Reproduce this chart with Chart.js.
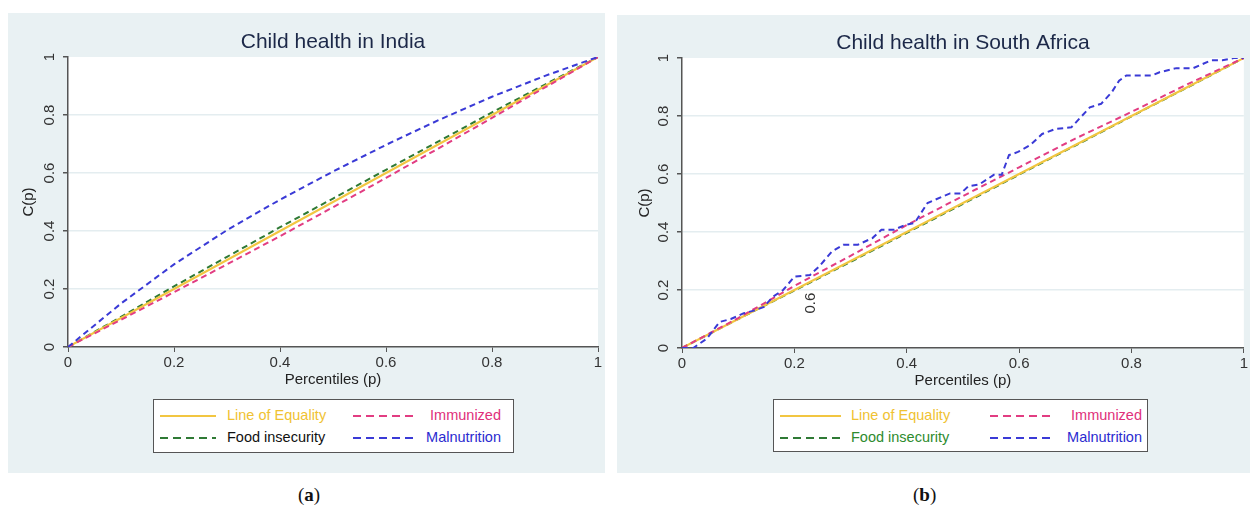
<!DOCTYPE html>
<html>
<head>
<meta charset="utf-8">
<script src="https://cdn.jsdelivr.net/npm/chart.js@4.4.1/dist/chart.umd.min.js"></script>
<style>
  body { margin: 0; background: #fff; width: 1250px; height: 514px; position: relative; overflow: hidden; font-family: "Liberation Sans", Arial, sans-serif; }
  .panel { position: absolute; background: #e9f1f3; }
  .panel canvas { position: absolute; left: 0; top: 0; }
  .legend { position: absolute; background: #fff; border: 1.5px solid #555; box-sizing: border-box; }
  .legend .item { position: absolute; font-size: 14.5px; line-height: 16px; white-space: nowrap; }
  .legend svg { position: absolute; }
  .caption { position: absolute; top: 484px; font-family: "Liberation Serif", "DejaVu Serif", serif; font-size: 19px; color: #111; }
</style>
</head>
<body>

<div class="panel" id="panelA" style="left:8px; top:13px; width:597px; height:460px;">
  <canvas id="chartA"></canvas>
</div>
<div class="panel" id="panelB" style="left:617px; top:15px; width:633px; height:458px;">
  <canvas id="chartB"></canvas>
</div>

<div class="legend" id="legendA" style="left:153px; top:399px; width:361px; height:54px;"></div>
<div class="legend" id="legendB" style="left:773px; top:399px; width:375px; height:53px;"></div>

<div class="caption" style="left:298px;">(<b>a</b>)</div>
<div class="caption" style="left:913px;">(<b>b</b>)</div>

<script>
// ---- data ----
const seriesNames = ['Line of Equality', 'Immunized', 'Food insecurity', 'Malnutrition'];

// India
const pIndia = [0, 0.1, 0.2, 0.3, 0.4, 0.5, 0.6, 0.7, 0.8, 0.9, 1];
const equalityIndia = [0, 0.1, 0.2, 0.3, 0.4, 0.5, 0.6, 0.7, 0.8, 0.9, 1];
const immunizedIndia = [0, 0.094, 0.189, 0.285, 0.382, 0.482, 0.583, 0.686, 0.79, 0.895, 1];
const foodIndia = [0, 0.104, 0.209, 0.311, 0.413, 0.512, 0.611, 0.71, 0.809, 0.905, 1];
const malnutritionIndia = [0, 0.15, 0.285, 0.403, 0.508, 0.605, 0.697, 0.783, 0.863, 0.935, 1];

// South Africa
const pSA = [0, 0.1, 0.2, 0.3, 0.4, 0.5, 0.6, 0.7, 0.8, 0.9, 1];
const equalitySA = [0, 0.1, 0.2, 0.3, 0.4, 0.5, 0.6, 0.7, 0.8, 0.9, 1];
const immunizedSA = [0, 0.103, 0.214, 0.318, 0.424, 0.524, 0.623, 0.722, 0.814, 0.91, 1];
const foodSA = [0, 0.1, 0.198, 0.297, 0.397, 0.497, 0.598, 0.698, 0.799, 0.899, 1];
const pMalnSA = [0, 0.02, 0.044, 0.067, 0.087, 0.11, 0.13, 0.146, 0.162, 0.18, 0.2, 0.228, 0.244, 0.267, 0.287, 0.313,
  0.339, 0.355, 0.378, 0.398, 0.414, 0.437, 0.477, 0.496, 0.51, 0.529, 0.555, 0.569, 0.582, 0.598, 0.62, 0.641,
  0.664, 0.693, 0.726, 0.746, 0.765, 0.778, 0.791, 0.837, 0.85, 0.88, 0.91, 0.942, 0.962, 0.982, 1];
const malnutritionSA = [0, 0, 0.032, 0.09, 0.1, 0.12, 0.13, 0.142, 0.177, 0.2, 0.246, 0.252, 0.281, 0.333, 0.356, 0.356,
  0.379, 0.408, 0.408, 0.425, 0.431, 0.5, 0.533, 0.533, 0.558, 0.564, 0.597, 0.597, 0.665, 0.676, 0.7, 0.738,
  0.755, 0.761, 0.83, 0.842, 0.882, 0.922, 0.94, 0.94, 0.951, 0.965, 0.965, 0.992, 0.992, 1, 1];

const axisTicks = [0, 0.2, 0.4, 0.6, 0.8, 1];

// stray rotated "0.6" that sits inside the South Africa plot
const strayText = ['0.6'];
const strayAt = [0.23, 0.155];

// ---- styling ----
const colEquality = '#f2c641';
const colImmunized = '#e23d82';
const colFood = '#2f7a35';
const colMaln = '#3a3ad6';
const dash = [6, 4];
const fontFam = '"Liberation Sans", Arial, sans-serif';

function pts(xs, ys) {
  return xs.map((x, i) => ({ x: x, y: ys[i] }));
}

function lineSet(label, xs, ys, color, dashed) {
  return {
    label: label,
    data: pts(xs, ys),
    borderColor: color,
    backgroundColor: color,
    borderWidth: 2,
    borderDash: dashed ? dash : [],
    pointRadius: 0,
    tension: 0,
    fill: false
  };
}

// white plot area + title over the plot area
const plotDecor = {
  id: 'plotDecor',
  beforeDraw(chart) {
    const a = chart.chartArea, ctx = chart.ctx;
    ctx.save();
    ctx.fillStyle = '#fff';
    ctx.fillRect(a.left, a.top, a.right - a.left, a.bottom - a.top);
    ctx.restore();
  },
  afterDraw(chart, args, opts) {
    const a = chart.chartArea, ctx = chart.ctx;
    ctx.save();
    ctx.fillStyle = '#1c2848';
    ctx.font = '21px ' + fontFam;
    ctx.textAlign = 'center';
    ctx.textBaseline = 'middle';
    ctx.fillText(opts.title, (a.left + a.right) / 2, opts.titleY);
    if (opts.stray) {
      const x = chart.scales.x.getPixelForValue(strayAt[0]);
      const y = chart.scales.y.getPixelForValue(strayAt[1]);
      ctx.translate(x, y);
      ctx.rotate(-Math.PI / 2);
      ctx.fillStyle = '#333';
      ctx.font = '15px ' + fontFam;
      ctx.fillText(strayText[0], 0, 0);
    }
    ctx.restore();
  }
};

function makeChart(id, w, h, datasets, title, titleY, pad, yTitlePad, stray) {
  const canvas = document.getElementById(id);
  canvas.width = w;
  canvas.height = h;
  canvas.style.width = w + 'px';
  canvas.style.height = h + 'px';
  return new Chart(canvas, {
    type: 'line',
    data: { datasets: datasets },
    plugins: [plotDecor],
    options: {
      responsive: false,
      animation: false,
      layout: { padding: pad },
      plugins: {
        legend: { display: false },
        tooltip: { enabled: false },
        plotDecor: { title: title, titleY: titleY, stray: stray }
      },
      scales: {
        x: {
          type: 'linear',
          min: 0, max: 1,
          afterBuildTicks: s => { s.ticks = axisTicks.map(v => ({ value: v })); },
          afterFit: s => { s.height = 44; },
          grid: { drawOnChartArea: false, tickColor: '#555', tickLength: 5 },
          border: { color: '#555', width: 1.5 },
          ticks: { color: '#333', font: { size: 15, family: fontFam }, maxRotation: 0, padding: 2, callback: v => String(v) },
          title: { display: true, text: 'Percentiles (p)', color: '#222', font: { size: 15, family: fontFam }, padding: { top: 0, bottom: 2 } }
        },
        y: {
          type: 'linear',
          min: 0, max: 1,
          afterBuildTicks: s => { s.ticks = axisTicks.map(v => ({ value: v })); },
          afterFit: s => { s.width = 50; },
          grid: {
            color: c => (c.tick && (c.tick.value === 0 || c.tick.value === 1)) ? 'rgba(0,0,0,0)' : '#e4edf0',
            tickColor: '#555', tickLength: 5, lineWidth: 1.5
          },
          border: { color: '#555', width: 1.5 },
          ticks: {
            color: '#333', font: { size: 15, family: fontFam },
            minRotation: 90, maxRotation: 90, crossAlign: 'center', padding: 3, callback: v => String(v)
          },
          title: { display: true, text: 'C(p)', color: '#222', font: { size: 15, family: fontFam }, padding: { top: yTitlePad, bottom: 0 } }
        }
      }
    }
  });
}

makeChart('chartA', 597, 460, [
  lineSet(seriesNames[3], pIndia, malnutritionIndia, colMaln, true),
  lineSet(seriesNames[1], pIndia, immunizedIndia, colImmunized, true),
  lineSet(seriesNames[0], pIndia, equalityIndia, colEquality, false),
  lineSet(seriesNames[2], pIndia, foodIndia, colFood, true)
], 'Child health in India', 29, { top: 44, right: 7, bottom: 82, left: 10 }, 2, false);

makeChart('chartB', 633, 458, [
  lineSet(seriesNames[3], pMalnSA, malnutritionSA, colMaln, true),
  lineSet(seriesNames[1], pSA, immunizedSA, colImmunized, true),
  lineSet(seriesNames[0], pSA, equalitySA, colEquality, false),
  lineSet(seriesNames[2], pSA, foodSA, colFood, true)
], 'Child health in South Africa', 28, { top: 43, right: 4, bottom: 81, left: 15 }, 4, true);

// ---- legends (html, two columns) ----
function buildLegend(id, textColors, cols) {
  const box = document.getElementById(id);
  const order = [0, 1, 2, 3]; // row-major: equality, immunized / food, malnutrition
  const lineCols = [colEquality, colImmunized, colFood, colMaln];
  order.forEach((k, i) => {
    const row = Math.floor(i / 2), col = i % 2;
    const cy = row === 0 ? 16 : 38;
    const c = cols[col];
    const svg = document.createElementNS('http://www.w3.org/2000/svg', 'svg');
    svg.setAttribute('width', c.lineW);
    svg.setAttribute('height', 6);
    svg.style.left = c.lineX + 'px';
    svg.style.top = (cy - 3) + 'px';
    const ln = document.createElementNS('http://www.w3.org/2000/svg', 'line');
    ln.setAttribute('x1', 0); ln.setAttribute('x2', c.lineW);
    ln.setAttribute('y1', 3); ln.setAttribute('y2', 3);
    ln.setAttribute('stroke', lineCols[k]);
    ln.setAttribute('stroke-width', 2);
    if (k !== 0) ln.setAttribute('stroke-dasharray', '8,5');
    svg.appendChild(ln);
    box.appendChild(svg);
    const t = document.createElement('div');
    t.className = 'item';
    t.textContent = seriesNames[k];
    t.style.color = textColors[k];
    t.style.top = (cy - 9) + 'px';
    if (c.textRight !== undefined) t.style.right = c.textRight + 'px';
    else t.style.left = c.textX + 'px';
    box.appendChild(t);
  });
}

buildLegend('legendA', ['#f0c232', '#e0307a', '#111', '#2b2bd0'], [
  { lineX: 6, lineW: 56, textX: 73 },
  { lineX: 199, lineW: 63, textRight: 12 }
]);
buildLegend('legendB', ['#f0c232', '#e0307a', '#2e8b2e', '#2b2bd0'], [
  { lineX: 6, lineW: 61, textX: 77 },
  { lineX: 216, lineW: 61, textRight: 5 }
]);
</script>
</body>
</html>
